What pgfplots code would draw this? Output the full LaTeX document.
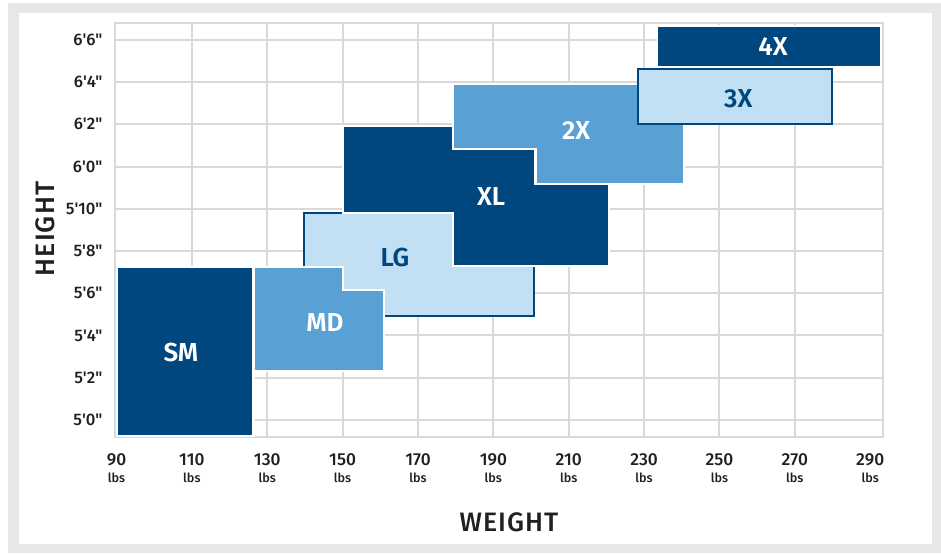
\documentclass[border=0pt]{standalone}
\usepackage{fontspec}
\setmainfont{Fira Sans}
\IfFontExistsTF{Fira Sans Medium}
  {\newfontfamily\medf{Fira Sans Medium}\newfontfamily\titlef{Fira Sans Medium}[LetterSpace=4]}
  {\newfontfamily\medf{Fira Sans}\newfontfamily\titlef{Fira Sans}[LetterSpace=4]}
\IfFontExistsTF{Fira Sans SemiBold}
  {\newfontfamily\semif{Fira Sans SemiBold}}
  {\newfontfamily\semif{Fira Sans}[FakeBold=2]}
\usepackage{pgfplots}
\pgfplotsset{compat=1.18}

\definecolor{darkblue}{RGB}{0,70,127}
\definecolor{midblue}{RGB}{89,160,212}
\definecolor{lightblue}{RGB}{194,224,244}
\definecolor{gridgray}{RGB}{217,217,217}
\definecolor{framegray}{RGB}{230,231,232}
\definecolor{textdark}{RGB}{35,31,32}

\newcommand\lbs{\fontsize{9.5}{9.5}\selectfont}
\newcommand\boxfont{\semif\fontsize{19.5}{20}\selectfont}

\begin{document}
\begin{tikzpicture}
\path[use as bounding box] (0,0) rectangle (705.75pt,-414.75pt);
\fill[framegray] (6pt,-2.25pt) rectangle (705.75pt,-414.75pt);
\fill[white] (14.25pt,-9.75pt) rectangle (699pt,-408pt);

\begin{axis}[
  at={(86.25pt,-327.75pt)}, anchor=south west,
  scale only axis, width=576pt, height=310.5pt,
  xmin=89.6, xmax=293.4, ymin=59.19, ymax=78.8,
  axis line style={draw=gridgray, line width=1.5pt},
  major tick length=0pt, minor tick length=0pt,
  xtick={90,110,...,290},
  xticklabels={{90\\\lbs lbs},{110\\\lbs lbs},{130\\\lbs lbs},{150\\\lbs lbs},
    {170\\\lbs lbs},{190\\\lbs lbs},{210\\\lbs lbs},{230\\\lbs lbs},
    {250\\\lbs lbs},{270\\\lbs lbs},{290\\\lbs lbs}},
  xticklabel style={font=\medf\fontsize{13}{12.5}\selectfont, align=center,
    text=textdark, yshift=-9pt},
  minor xtick={110,130,...,270},
  xminorgrids,
  ytick={60,62,...,78},
  yticklabels={{5\textquotesingle 0"},{5\textquotesingle 2"},{5\textquotesingle 4"},
    {5\textquotesingle 6"},{5\textquotesingle 8"},{5\textquotesingle 10"},
    {6\textquotesingle 0"},{6\textquotesingle 2"},{6\textquotesingle 4"},
    {6\textquotesingle 6"}},
  yticklabel style={font=\medf\fontsize{12.5}{13}\selectfont, text=textdark,
    xshift=-6pt},
  ymajorgrids,
  grid style={draw=gridgray, line width=1.5pt},
  minor grid style={draw=gridgray, line width=1.5pt},
]
% LG
\addplot[fill=lightblue, draw=darkblue, line width=1.5pt]
  coordinates {(139.75,64.93) (200.9,64.93) (200.9,69.8) (139.75,69.8)} -- cycle;
% XL
\addplot[fill=darkblue, draw=white, line width=1.8pt]
  coordinates {(150.1,69.8) (150.1,73.93) (179.3,73.93) (179.3,72.84)
    (201.2,72.84) (201.2,71.18) (220.7,71.18) (220.7,67.3) (179.3,67.3)
    (179.3,69.8)} -- cycle;
% MD
\addplot[fill=midblue, draw=white, line width=1.8pt]
  coordinates {(126.35,62.32) (161.0,62.32) (161.0,66.16) (150.1,66.16)
    (150.1,67.25) (126.35,67.25)} -- cycle;
% SM
\addplot[fill=darkblue, draw=white, line width=1.8pt]
  coordinates {(90.13,59.24) (126.35,59.24) (126.35,67.25) (90.13,67.25)} -- cycle;
% 2X
\addplot[fill=midblue, draw=white, line width=1.8pt]
  coordinates {(179.3,72.84) (179.3,75.92) (240.6,75.92) (240.6,71.18)
    (201.2,71.18) (201.2,72.84)} -- cycle;
% 3X
\addplot[fill=lightblue, draw=darkblue, line width=1.5pt]
  coordinates {(228.4,74.02) (279.8,74.02) (279.8,76.63) (228.4,76.63)} -- cycle;
% 4X
\addplot[fill=darkblue, draw=white, line width=1.2pt]
  coordinates {(233.6,76.72) (292.8,76.72) (292.8,78.66) (233.6,78.66)} -- cycle;

\node[font=\boxfont, text=white] at (axis cs:107.1,63.2) {SM};
\node[font=\boxfont, text=white] at (axis cs:145.3,64.6) {MD};
\node[font=\boxfont, text=darkblue] at (axis cs:163.9,67.7) {LG};
\node[font=\boxfont, text=white] at (axis cs:189.4,70.6) {XL};
\node[font=\boxfont, text=white] at (axis cs:212.0,73.7) {2X};
\node[font=\boxfont, text=darkblue] at (axis cs:255.0,75.2) {3X};
\node[font=\boxfont, text=white] at (axis cs:264.2,77.7) {4X};
\end{axis}

\node[rotate=90, font=\titlef\fontsize{20}{20}\selectfont, text=textdark]
  at (33.75pt,-171.75pt) {HEIGHT};
\node[font=\titlef\fontsize{20}{20}\selectfont, text=textdark]
  at (381.75pt,-391.5pt) {WEIGHT};
\end{tikzpicture}
\end{document}
